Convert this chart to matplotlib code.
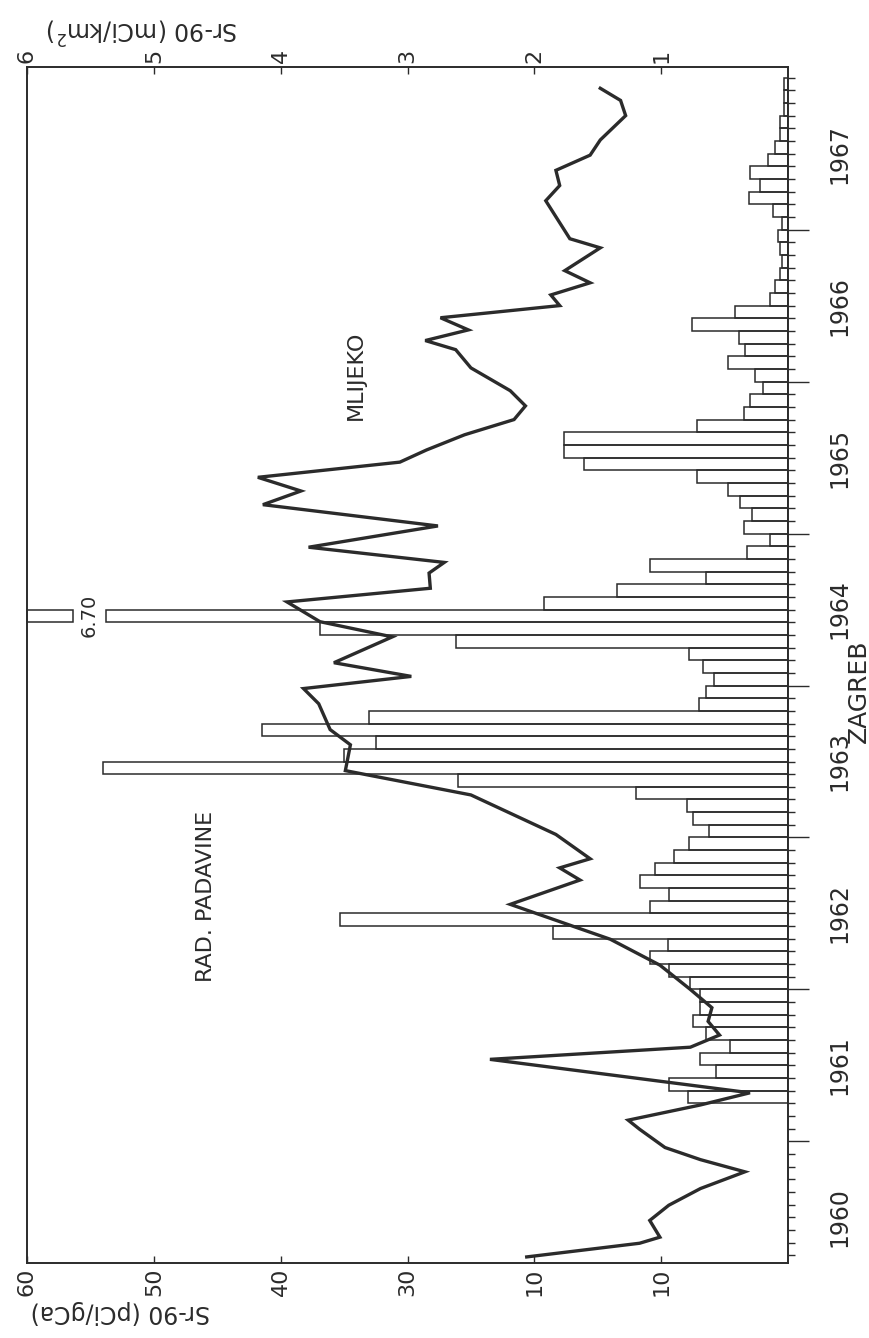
import matplotlib.pyplot as plt
import numpy as np

# Sr-90 u padavinama, mjesecno (mCi/km2), od travnja 1961. do prosinca 1967.
fallout_start = 1961.25
fallout = [0.79, 0.94, 0.57, 0.69, 0.46, 0.65, 0.75, 0.69, 0.69,          # 1961
           0.77, 0.94, 1.09, 0.95, 1.85, 3.53, 1.09, 0.94, 1.17, 1.05, 0.90, 0.78,  # 1962
           0.62, 0.75, 0.80, 1.20, 2.60, 5.40, 3.50, 3.25, 4.15, 3.30, 0.70, 0.65,  # 1963
           0.58, 0.67, 0.78, 2.62, 3.69, 6.70, 1.92, 1.35, 0.65, 1.09, 0.32, 0.14,  # 1964
           0.35, 0.28, 0.38, 0.47, 0.72, 1.61, 1.77, 1.77, 0.72, 0.35, 0.30, 0.20,  # 1965
           0.26, 0.47, 0.34, 0.39, 0.76, 0.42, 0.14, 0.10, 0.06, 0.05, 0.06, 0.08,  # 1966
           0.05, 0.12, 0.31, 0.22, 0.30, 0.16, 0.10, 0.06, 0.06, 0.03, 0.03, 0.03]  # 1967

# Sr-90 u mlijeku (pCi/gCa)
milk_t = [1960.24, 1960.33, 1960.37, 1960.48, 1960.58, 1960.69, 1960.80, 1960.88,
          1960.96, 1961.08, 1961.14, 1961.24, 1961.32, 1961.54, 1961.62, 1961.70,
          1961.79, 1961.88, 1962.00, 1962.16, 1962.33, 1962.56, 1962.72, 1962.80,
          1962.86, 1963.02, 1963.28, 1963.44, 1963.61, 1963.71, 1963.88, 1963.98,
          1964.06, 1964.15, 1964.32, 1964.42, 1964.55, 1964.64, 1964.74, 1964.81,
          1964.91, 1965.05, 1965.19, 1965.28, 1965.37, 1965.47, 1965.55, 1965.65,
          1965.75, 1965.84, 1965.94, 1966.09, 1966.21, 1966.27, 1966.34, 1966.42,
          1966.50, 1966.57, 1966.65, 1966.73, 1966.88, 1966.94, 1967.19, 1967.29,
          1967.39, 1967.49, 1967.59, 1967.75, 1967.85, 1967.93]
milk = [20.6, 11.7, 10.1, 10.9, 9.4, 6.9, 3.4, 6.9,
        9.7, 11.7, 12.6, 6.9, 3.0, 23.5, 7.7, 5.4,
        6.3, 6.0, 7.7, 10.1, 14.0, 21.9, 16.4, 18.0,
        15.6, 18.3, 25.0, 34.9, 34.5, 36.1, 37.0, 38.2,
        29.7, 35.8, 31.2, 36.9, 39.5, 28.2, 28.3, 27.1,
        37.8, 27.6, 41.4, 38.4, 41.8, 30.6, 28.5, 25.5,
        21.6, 20.7, 21.9, 25.0, 26.2, 28.6, 25.2, 27.4,
        18.0, 18.7, 15.6, 17.6, 14.8, 17.2, 19.1, 18.0,
        18.3, 15.6, 14.8, 12.8, 13.2, 14.8]

years = list(range(1960, 1968))
x_ticks = [10, 20, 30, 40, 50, 60]
x_labels = ['10', '10', '30', '40', '50', '60']
top_ticks = [1, 2, 3, 4, 5, 6]

ink = '#2b2b2b'
plt.rcParams['font.family'] = ['DejaVu Sans']

W, H = 869, 1338
fig = plt.figure(figsize=(W / 100, H / 100), dpi=100)
ax = fig.add_axes([27 / W, 1 - 1263 / H, (788 - 27) / W, (1263 - 67) / H])
ax.set_xlim(60, 0)
ax.set_ylim(1960.2, 1968.07)

# milk line
ax.plot(milk, milk_t, color=ink, lw=2.4, zorder=3, solid_joinstyle='miter')

# fallout bars on the top scale
ax2 = ax.twiny()
ax2.set_xlim(6, 0)
months = fallout_start + np.arange(len(fallout)) / 12
for t, v in zip(months, fallout):
    if v <= 6:
        ax2.barh(t + 1 / 24, v, height=1 / 12, left=0, facecolor='none',
                 edgecolor=ink, lw=1.1, zorder=2)
    else:
        # broken bar, value written in the gap
        ax2.barh(t + 1 / 24, 5.38, height=1 / 12, left=0, facecolor='none',
                 edgecolor=ink, lw=1.1, zorder=2)
        ax2.barh(t + 1 / 24, 6 - 5.64, height=1 / 12, left=5.64, facecolor='none',
                 edgecolor=ink, lw=1.1, zorder=2, clip_on=False)
        ax2.text(5.51, t + 1 / 24, '%.2f' % v, rotation=90, ha='center', va='center',
                 fontsize=14, color=ink)

for a in (ax, ax2):
    for s in a.spines.values():
        s.set_color(ink)
        s.set_linewidth(1.2)

ax.set_xticks(x_ticks)
ax.set_xticklabels(x_labels, rotation=90, fontsize=16, color=ink)
ax.tick_params(axis='x', direction='in', length=5, width=1, color=ink, pad=3)
ax2.set_xticks(top_ticks)
ax2.set_xticklabels([str(v) for v in top_ticks], rotation=90, fontsize=16, color=ink)
ax2.tick_params(axis='x', direction='in', length=5, width=1, color=ink, pad=3)

# time axis on the right side
ax.yaxis.tick_right()
ax.set_yticks(years[1:])
ax.set_yticklabels([])
ax.set_yticks(np.arange(1960.25, 1968.01, 1 / 12), minor=True)
ax.tick_params(axis='y', which='major', direction='out', length=15, width=1, color=ink)
ax.tick_params(axis='y', which='minor', direction='out', length=5, width=1, color=ink)
for y in years:
    ax.text(1.068, y + 0.5, str(y), transform=ax.get_yaxis_transform(), rotation=90,
            ha='center', va='center', fontsize=17, color=ink)

ax.text(1.093, 1963.96, 'ZAGREB', transform=ax.get_yaxis_transform(), rotation=90,
        ha='center', va='center', fontsize=18, color=ink)
ax.text(45.9, 1962.61, 'RAD. PADAVINE', rotation=90, ha='center', va='center',
        fontsize=16, color=ink)
ax.text(34.1, 1966.04, 'MLIJEKO', rotation=90, ha='center', va='center',
        fontsize=16, color=ink)

fig.text(142 / W, 1 - 30 / H, 'Sr-90 (mCi/km$^2$)', rotation=180, ha='center',
         va='center', fontsize=17, color=ink)
fig.text(120 / W, 1 - 1312 / H, 'Sr-90 (pCi/gCa)', rotation=180, ha='center',
         va='center', fontsize=17, color=ink)

fig.savefig('out.png', dpi=100)
